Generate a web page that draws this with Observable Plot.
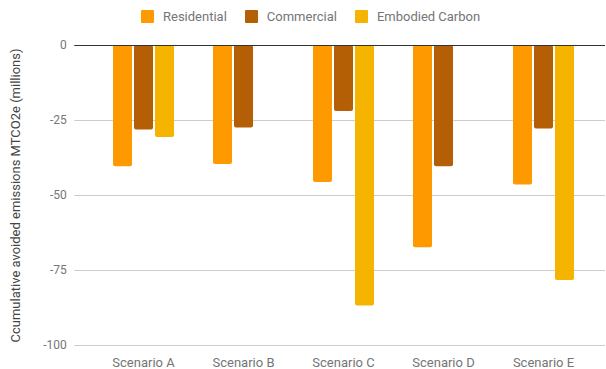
<!DOCTYPE html>
<html>
<head>
<meta charset="utf-8">
<script src="https://cdn.jsdelivr.net/npm/d3@7"></script>
<script src="https://cdn.jsdelivr.net/npm/@observablehq/plot@0.6"></script>
<style>
  body { margin: 0; background: #fff; font-family: Roboto, sans-serif; }
  #chart { position: relative; width: 606px; height: 369px; overflow: hidden; }
  .legend { position: absolute; left: 141px; top: 9px; display: flex; align-items: center;
            font-size: 13px; color: #757575; height: 14px; white-space: nowrap; }
  .legend .item { display: flex; align-items: center; margin-right: 18px; }
  .legend .sw { width: 13px; height: 13px; border-radius: 1px; margin-right: 9px; }
  #chart svg { position: absolute; left: 0; top: 32px; }
  [aria-label="y-axis label"] { fill: #444; font-size: 13px; }
  [aria-label="fx-axis tick label"] { font-size: 13px; }
</style>
</head>
<body>
<div id="chart"></div>
<script>
// Scenario categories and series
const scenarios = ["Scenario A", "Scenario B", "Scenario C", "Scenario D", "Scenario E"];
const seriesNames = ["Residential", "Commercial", "Embodied Carbon"];
const seriesColors = ["#ff9900", "#b45f06", "#f4b400"];

// Cumulative avoided emissions, MTCO2e (millions)
const residential = [-40.4, -39.7, -45.7, -67.4, -46.5];
const commercial = [-28.2, -27.5, -22.0, -40.4, -27.8];
const embodiedCarbon = [-30.7, null, -86.8, null, -78.3];

const yTicks = [0, -25, -50, -75, -100];

// Long table for the grouped bars
const columns = [residential, commercial, embodiedCarbon];
const rows = [];
scenarios.forEach((scenario, i) => {
  seriesNames.forEach((series, j) => {
    const value = columns[j][i];
    if (value != null) rows.push({scenario, series, value});
  });
});

const chart = document.getElementById("chart");

// Legend
const legend = document.createElement("div");
legend.className = "legend";
seriesNames.forEach((name, i) => {
  const item = document.createElement("div");
  item.className = "item";
  const sw = document.createElement("span");
  sw.className = "sw";
  sw.style.background = seriesColors[i];
  const label = document.createElement("span");
  label.textContent = name;
  item.append(sw, label);
  legend.append(item);
});
chart.append(legend);

// The scenario bands leave an outer gap on each side of the frame.
const outerLeft = 18.75;
const outerRight = 12;

// Grid rules are repeated in every scenario band; the negative insets let
// neighbouring bands meet so the lines run across the whole frame.
const gridInsets = {insetLeft: -outerLeft, insetRight: -outerRight};

const plot = Plot.plot({
  width: 606,
  height: 337,
  marginTop: 13,
  marginBottom: 24,
  marginLeft: 73,
  marginRight: 0,
  style: {fontFamily: "Roboto, sans-serif", fontSize: "12px", color: "#757575", background: "#fff"},
  fx: {domain: scenarios, paddingInner: 0, paddingOuter: 0.1517, align: 0.615,
       label: null, axis: "bottom", tickSize: 0, tickPadding: 12},
  x: {domain: seriesNames, axis: null, paddingInner: 0.11, paddingOuter: 0.87},
  // the y axis sits on the first scenario band, so its padding reaches back to the frame edge
  y: {domain: [-100, 0], ticks: yTicks, tickSize: 0, tickPadding: 8 + outerLeft,
      tickFormat: d => String(d),
      label: "Ccumulative avoided emissions MTCO2e (millions)", labelAnchor: "center",
      labelArrow: "none", labelOffset: 64 + outerLeft},
  color: {domain: seriesNames, range: seriesColors},
  marks: [
    Plot.ruleY(yTicks.filter(d => d !== 0), {stroke: "#cccccc", ...gridInsets}),
    Plot.barY(rows, {fx: "scenario", x: "series", y: "value", fill: "series", rx: 2}),
    Plot.ruleY([0], {stroke: "#333333", ...gridInsets})
  ]
});
chart.append(plot);
</script>
</body>
</html>
